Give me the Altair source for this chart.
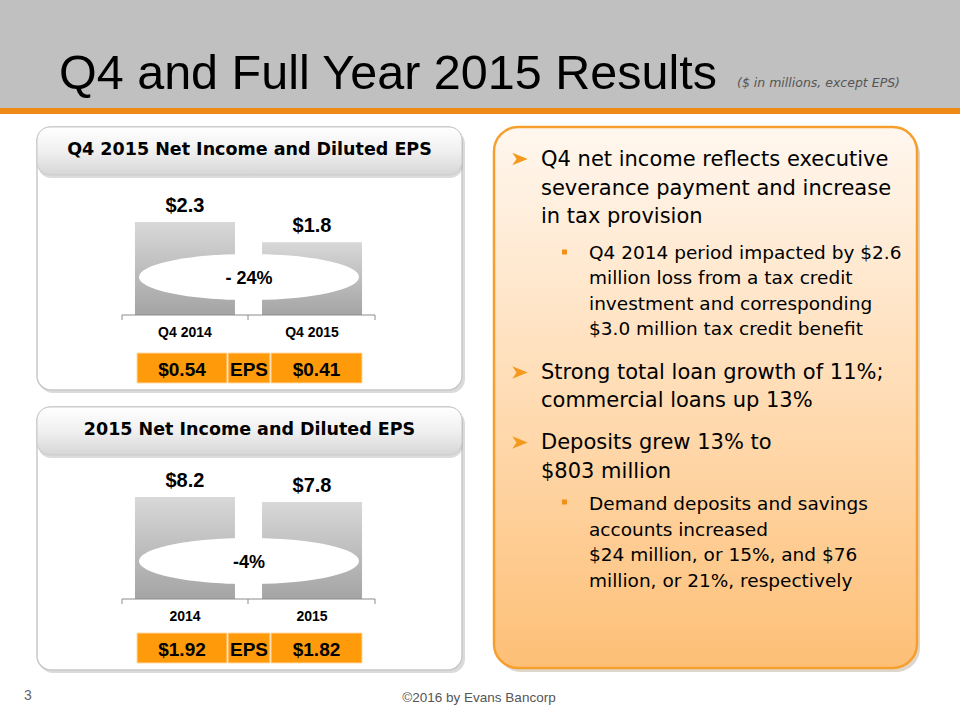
import altair as alt
import pandas as pd

# ---------------- data ----------------
q4_periods = ["Q4 2014", "Q4 2015"]
q4_net_income = [2.3, 1.8]
q4_eps = ["$0.54", "$0.41"]
q4_change = "- 24%"

fy_periods = ["2014", "2015"]
fy_net_income = [8.2, 7.8]
fy_eps = ["$1.92", "$1.82"]
fy_change = "-4%"

panel_titles = ["Q4 2015 Net Income and Diluted EPS", "2015 Net Income and Diluted EPS"]
eps_label = "EPS"
slide_title = "Q4 and Full Year 2015 Results"
slide_subtitle = "($ in millions, except EPS)"

bullet1 = ["Q4 net income reflects executive", "severance payment and increase", "in tax provision"]
sub1 = ["Q4 2014 period impacted by $2.6", "million loss from a tax credit",
        "investment and corresponding", "$3.0 million tax credit benefit"]
bullet2 = ["Strong total loan growth of 11%;", "commercial loans up 13%"]
bullet3 = ["Deposits grew 13% to", "$803 million"]
sub3 = ["Demand deposits and savings", "accounts increased",
        "$24 million, or 15%, and $76", "million, or 21%, respectively"]

footer_text = "\u00a92016 by Evans Bancorp"
page_number = "3"

# ---------------- helpers ----------------
one = pd.DataFrame({"k": [0]})
SANS = "Liberation Sans"
WIDE = "DejaVu Sans"


def vgrad(stops):
    return alt.Gradient(
        gradient="linear",
        stops=[alt.GradientStop(offset=o, color=c) for o, c in stops],
        x1=0, x2=0, y1=0, y2=1,
    )


def hgrad(stops):
    return alt.Gradient(
        gradient="linear",
        stops=[alt.GradientStop(offset=o, color=c) for o, c in stops],
        x1=0, x2=1, y1=0, y2=0,
    )


def rect(x1, y1, x2, y2, **kw):
    return alt.Chart(one).mark_rect(**kw).encode(
        x=alt.value(x1), x2=alt.value(x2), y=alt.value(y1), y2=alt.value(y2)
    )


def rule(x1, y1, x2, y2, color="#8c8c8c", width=1):
    return alt.Chart(one).mark_rule(color=color, strokeWidth=width).encode(
        x=alt.value(x1), x2=alt.value(x2), y=alt.value(y1), y2=alt.value(y2)
    )


def text(s, x, y, size, font=WIDE, weight="normal", color="#000000",
         align="left", style="normal"):
    return alt.Chart(one).mark_text(
        text=s, font=font, fontSize=size, fontWeight=weight, color=color,
        align=align, fontStyle=style, baseline="alphabetic"
    ).encode(x=alt.value(x), y=alt.value(y))


def lines(seq, x, y0, lh, size, **kw):
    return [text(s, x, y0 + i * lh, size, **kw) for i, s in enumerate(seq)]


ELLIPSE = "M-1,0A1,0.21,0,1,0,1,0A1,0.21,0,1,0,-1,0Z"
ARROW = "M-1,-0.8L1,0L-1,0.8L-0.45,0Z"


def shape(path, x, y, size, color):
    return alt.Chart(one).mark_point(
        shape=path, size=size, filled=True, fill=color, stroke=None,
        strokeWidth=0, opacity=1
    ).encode(x=alt.value(x), y=alt.value(y))


def bar_panel(periods, values, y_base, y_top):
    df = pd.DataFrame({
        "period": periods,
        "value": values,
        "label": ["$%.1f" % v for v in values],
    })
    xs = alt.Scale(domain=periods, range=[122, 375],
                   paddingInner=0.213, paddingOuter=0.102)
    ys = alt.Scale(domain=[0, max(values)], range=[y_base, y_top],
                   nice=False, zero=True)
    base = alt.Chart(df).encode(x=alt.X("period:N", scale=xs, axis=None))
    bars = base.mark_bar(
        fill=vgrad([(0, "#d8d8d8"), (1, "#a4a4a4")]), stroke=None
    ).encode(y=alt.Y("value:Q", scale=ys, axis=None))
    vals = base.mark_text(
        font=SANS, fontSize=20, fontWeight="bold", color="#000000",
        baseline="alphabetic", dy=-10
    ).encode(y=alt.Y("value:Q", scale=ys, axis=None), text="label:N")
    cats = base.mark_text(
        font=SANS, fontSize=14, fontWeight="bold", color="#000000",
        baseline="alphabetic"
    ).encode(y=alt.value(y_base + 22), text="period:N")
    return alt.layer(bars, vals, cats)


def left_panel(top, title, periods, values, eps, change, y_base, y_top):
    bottom = top + 263
    layers = [
        rect(39, top + 3, 465, bottom + 3, fill="#bdbdbd", opacity=0.55, cornerRadius=14),
        rect(37, top, 462, bottom, fill="#ffffff", stroke="#c9c9c9",
             strokeWidth=1.5, cornerRadius=14),
        rect(38, top + 3, 463, top + 51, fill="#9a9a9a", opacity=0.35, cornerRadius=13),
        rect(37, top, 462, top + 48,
             fill=vgrad([(0, "#ffffff"), (0.5, "#f0f0f0"), (1, "#d6d6d6")]),
             stroke="#c9c9c9", strokeWidth=1, cornerRadius=13),
        text(title, 249.5, top + 28, 17.5, font=WIDE, weight="bold", align="center"),
        bar_panel(periods, values, y_base, y_top),
        rule(122, y_base, 375, y_base),
        rule(122, y_base, 122, y_base + 5),
        rule(248, y_base, 248, y_base + 5),
        rule(375, y_base, 375, y_base + 5),
        shape(ELLIPSE, 249, y_base - 38, 48400, "#ffffff"),
        text(change, 249, y_base - 31, 18, font=SANS, weight="bold", align="center"),
    ]
    ey = top + 226
    cells = [(137, 227), (228, 270), (271, 362)]
    for (a, b) in cells:
        layers.append(rect(a, ey, b, ey + 30, fill="#ff9a0a", stroke="#ffd9a3", strokeWidth=1))
    labels = [eps[0], eps_label, eps[1]]
    for (a, b), s in zip(cells, labels):
        layers.append(text(s, (a + b) / 2, ey + 23, 19, font=SANS, weight="bold", align="center"))
    return layers


layers = []
# header band
layers.append(rect(0, 0, 960, 108, fill="#c0c0c0"))
layers.append(rect(0, 108, 960, 114, fill="#ef8a17"))
layers.append(text(slide_title, 59, 89, 48.5, font=SANS))
layers.append(text(slide_subtitle, 737, 87, 12.5, font=WIDE, style="italic", color="#555555"))

# left panels
layers += left_panel(127, panel_titles[0], q4_periods, q4_net_income, q4_eps, q4_change, 315, 222)
layers += left_panel(407, panel_titles[1], fy_periods, fy_net_income, fy_eps, fy_change, 599, 497)

# right panel
layers.append(rect(497, 131, 920, 672, fill="#b8a48c", opacity=0.45, cornerRadius=24))
layers.append(rect(494, 127, 917, 668,
                   fill=vgrad([(0, "#fff7ef"), (0.5, "#ffdcb4"), (1, "#fdbf76")]),
                   stroke="#f5a02c", strokeWidth=2.5, cornerRadius=24))

ORANGE = "#f39a1e"
ARROW_SIZE = 240
layers.append(shape(ARROW, 520, 159, ARROW_SIZE, ORANGE))
layers += lines(bullet1, 541, 166, 28.5, 21)
layers.append(alt.Chart(one).mark_square(size=25, color="#f0901a", opacity=1)
              .encode(x=alt.value(564.5), y=alt.value(252)))
layers += lines(sub1, 589, 258.5, 25.6, 18.5)
layers.append(shape(ARROW, 520, 372.5, ARROW_SIZE, ORANGE))
layers += lines(bullet2, 541, 378.5, 28.5, 21)
layers.append(shape(ARROW, 520, 442.5, ARROW_SIZE, ORANGE))
layers += lines(bullet3, 541, 449, 28.5, 21)
layers.append(alt.Chart(one).mark_square(size=25, color="#f0901a", opacity=1)
              .encode(x=alt.value(564.5), y=alt.value(502)))
layers += lines(sub3, 589, 510, 25.6, 18.5)

# footer
layers.append(text(page_number, 28, 700, 14, font=SANS, color="#666666", align="center"))
layers.append(text(footer_text, 479, 702, 13.5, font=SANS, color="#555555", align="center"))

chart = alt.layer(*layers).resolve_scale(
    x="independent", y="independent"
).properties(
    width=960, height=720, autosize=alt.AutoSizeParams(type="none"), padding=0,
    background="#ffffff"
).configure_view(stroke=None)

chart.save("out.html", embed_options={"renderer": "svg", "actions": False})
